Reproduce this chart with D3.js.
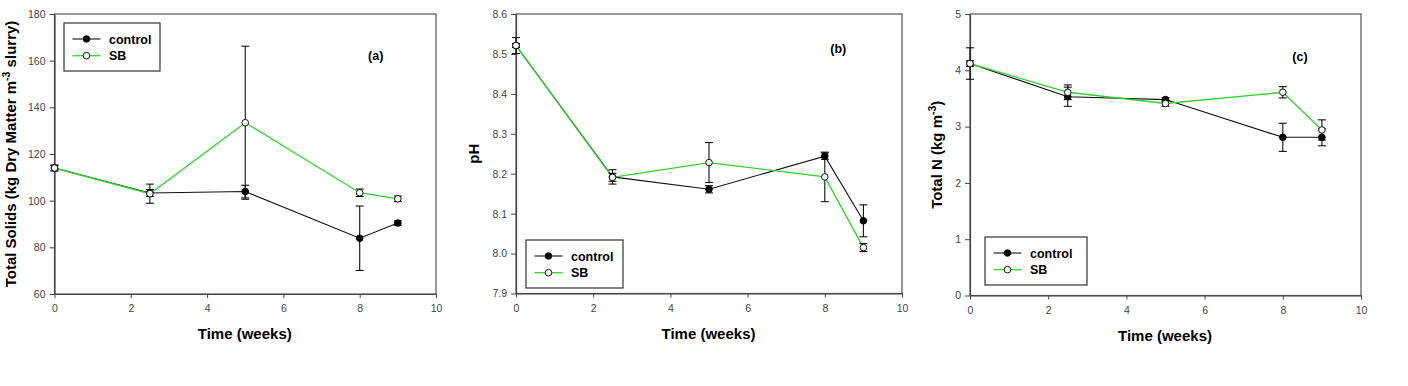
<!DOCTYPE html>
<html>
<head>
<meta charset="utf-8">
<script src="https://cdn.jsdelivr.net/npm/d3@7"></script>
<style>
  body { margin: 0; background: #fff; }
  text { font-family: "Liberation Sans", Arial, sans-serif; }
</style>
</head>
<body>
<div id="chart"></div>
<script>
// data
const weeks = [0, 2.5, 5, 8, 9];
const xTicks = [0, 2, 4, 6, 8, 10];
const seriesNames = ["control", "SB"];

// (a) total solids
const solidsControl = [114, 103.3, 103.9, 83.9, 90.4];
const solidsControlErr = [1.2, 1.5, 2.7, 13.8, 1.0];
const solidsSB = [114, 103, 133.4, 103.4, 100.8];
const solidsSBErr = [1.2, 4.1, 32.8, 1.6, 1.2];
const solidsTicks = [60, 80, 100, 120, 140, 160, 180];

// (b) pH
const phControl = [8.521, 8.192, 8.161, 8.244, 8.082];
const phControlErr = [0.02, 0.018, 0.009, 0.008, 0.04];
const phSB = [8.521, 8.191, 8.228, 8.192, 8.015];
const phSBErr = [0.005, 0.01, 0.05, 0.062, 0.01];
const phTicks = [7.9, 8.0, 8.1, 8.2, 8.3, 8.4, 8.5, 8.6];

// (c) total N
const nControl = [4.12, 3.53, 3.48, 2.81, 2.81];
const nControlErr = [0.28, 0.17, 0.03, 0.25, 0.15];
const nSB = [4.12, 3.61, 3.41, 3.61, 2.94];
const nSBErr = [0.05, 0.13, 0.05, 0.1, 0.18];
const nTicks = [0, 1, 2, 3, 4, 5];

const green = "#2fd22f";

var svg = d3.select("#chart")
    .append("svg")
    .attr("width", 1408)
    .attr("height", 386);

var panels = [
    {
        box: { left: 54.5, right: 436, top: 14, bottom: 294 },
        yDomain: [60, 180], yTicks: solidsTicks, fmt: d3.format("d"),
        control: solidsControl, controlErr: solidsControlErr,
        sb: solidsSB, sbErr: solidsSBErr,
        yLabel: ["Total Solids (kg Dry Matter m", "-3", " slurry)"], yLabelX: 16,
        tag: "(a)", tagPos: [375.7, 59.5],
        legend: [9.5, 9, 96]
    },
    {
        box: { left: 516, right: 902, top: 14, bottom: 293.5 },
        yDomain: [7.9, 8.6], yTicks: phTicks, fmt: d3.format(".1f"),
        control: phControl, controlErr: phControlErr,
        sb: phSB, sbErr: phSBErr,
        yLabel: ["pH"], yLabelX: 479,
        tag: "(b)", tagPos: [838.3, 52.5],
        legend: [10, 226, 97]
    },
    {
        box: { left: 970, right: 1361, top: 14, bottom: 295.5 },
        yDomain: [0, 5], yTicks: nTicks, fmt: d3.format("d"),
        control: nControl, controlErr: nControlErr,
        sb: nSB, sbErr: nSBErr,
        yLabel: ["Total N (kg m", "-3", ")"], yLabelX: 942,
        tag: "(c)", tagPos: [1300, 60.5],
        legend: [15, 223, 102]
    }
];

panels.forEach(function (p) {
    var b = p.box;
    var x = d3.scaleLinear().domain([0, 10]).range([b.left, b.right]);
    var y = d3.scaleLinear().domain(p.yDomain).range([b.bottom, b.top]);
    var g = svg.append("g");

    // frame
    g.append("rect")
        .attr("x", b.left).attr("y", b.top)
        .attr("width", b.right - b.left).attr("height", b.bottom - b.top)
        .attr("fill", "none").attr("stroke", "#555").attr("stroke-width", 1.2);

    // axes
    var xa = g.append("g")
        .attr("transform", `translate(0, ${b.bottom})`)
        .call(d3.axisBottom(x).tickValues(xTicks).tickSize(4).tickPadding(7).tickSizeOuter(0));
    var ya = g.append("g")
        .attr("transform", `translate(${b.left}, 0)`)
        .call(d3.axisLeft(y).tickValues(p.yTicks).tickFormat(p.fmt).tickSize(5).tickPadding(4).tickSizeOuter(0));
    [xa, ya].forEach(function (a) {
        a.select(".domain").attr("stroke", "#444").attr("stroke-width", 1.2);
        a.selectAll(".tick line").attr("stroke", "#444");
        a.selectAll(".tick text")
            .attr("fill", "#444")
            .style("font-size", "10.5px")
            .style("font-family", "'Liberation Sans', Arial, sans-serif");
    });

    // axis titles
    g.append("text")
        .attr("x", (b.left + b.right) / 2 - 0.5)
        .attr("y", b.bottom + 45)
        .attr("text-anchor", "middle")
        .style("font-size", "15px").style("font-weight", "bold")
        .text("Time (weeks)");

    var yl = g.append("text")
        .attr("transform", `translate(${p.yLabelX}, ${(b.top + b.bottom) / 2}) rotate(-90)`)
        .attr("text-anchor", "middle")
        .style("font-size", "15px").style("font-weight", "bold");
    yl.append("tspan").text(p.yLabel[0]);
    if (p.yLabel.length > 1) {
        yl.append("tspan").attr("dy", -6).style("font-size", "10.5px").text(p.yLabel[1]);
        yl.append("tspan").attr("dy", 6).text(p.yLabel[2]);
    }

    g.append("text")
        .attr("x", p.tagPos[0]).attr("y", p.tagPos[1])
        .attr("text-anchor", "middle")
        .style("font-size", "12.5px").style("font-weight", "bold")
        .text(p.tag);

    var line = d3.line().x((d, i) => x(weeks[i])).y(d => y(d));

    g.append("path").datum(p.control)
        .attr("d", line).attr("fill", "none").attr("stroke", "#111").attr("stroke-width", 1.1);
    g.append("path").datum(p.sb)
        .attr("d", line).attr("fill", "none").attr("stroke", green).attr("stroke-width", 1.3);

    // error bars
    [[p.control, p.controlErr], [p.sb, p.sbErr]].forEach(function (s) {
        var eb = g.append("g").attr("stroke", "#111").attr("stroke-width", 1.1);
        s[0].forEach(function (v, i) {
            var cx = x(weeks[i]);
            var y1 = y(v + s[1][i]), y2 = y(v - s[1][i]);
            eb.append("line").attr("x1", cx).attr("x2", cx).attr("y1", y1).attr("y2", y2);
            eb.append("line").attr("x1", cx - 4).attr("x2", cx + 4).attr("y1", y1).attr("y2", y1);
            eb.append("line").attr("x1", cx - 4).attr("x2", cx + 4).attr("y1", y2).attr("y2", y2);
        });
    });

    // markers
    g.append("g").selectAll("circle")
        .data(p.control).enter().append("circle")
        .attr("cx", (d, i) => x(weeks[i])).attr("cy", d => y(d)).attr("r", 3.3)
        .attr("fill", "#000").attr("stroke", "#000");
    g.append("g").selectAll("circle")
        .data(p.sb).enter().append("circle")
        .attr("cx", (d, i) => x(weeks[i])).attr("cy", d => y(d)).attr("r", 3.3)
        .attr("fill", "#fff").attr("stroke", "#111").attr("stroke-width", 1);

    // legend
    var lx = b.left + p.legend[0], ly = b.top + p.legend[1];
    var lg = g.append("g").attr("transform", `translate(${lx}, ${ly})`);
    lg.append("rect")
        .attr("width", p.legend[2]).attr("height", 48)
        .attr("fill", "#fff").attr("stroke", "#333").attr("stroke-width", 1.2);
    seriesNames.forEach(function (name, k) {
        var ry = 16 + k * 16.7;
        lg.append("line")
            .attr("x1", 8.5).attr("x2", 36.5).attr("y1", ry).attr("y2", ry)
            .attr("stroke", k === 0 ? "#111" : green).attr("stroke-width", k === 0 ? 1.1 : 1.3);
        lg.append("circle")
            .attr("cx", 22.5).attr("cy", ry).attr("r", 3.3)
            .attr("fill", k === 0 ? "#000" : "#fff").attr("stroke", "#111");
        lg.append("text")
            .attr("x", 45).attr("y", ry + 4.5)
            .style("font-size", "12.5px").style("font-weight", "bold")
            .text(name);
    });
});
</script>
</body>
</html>
